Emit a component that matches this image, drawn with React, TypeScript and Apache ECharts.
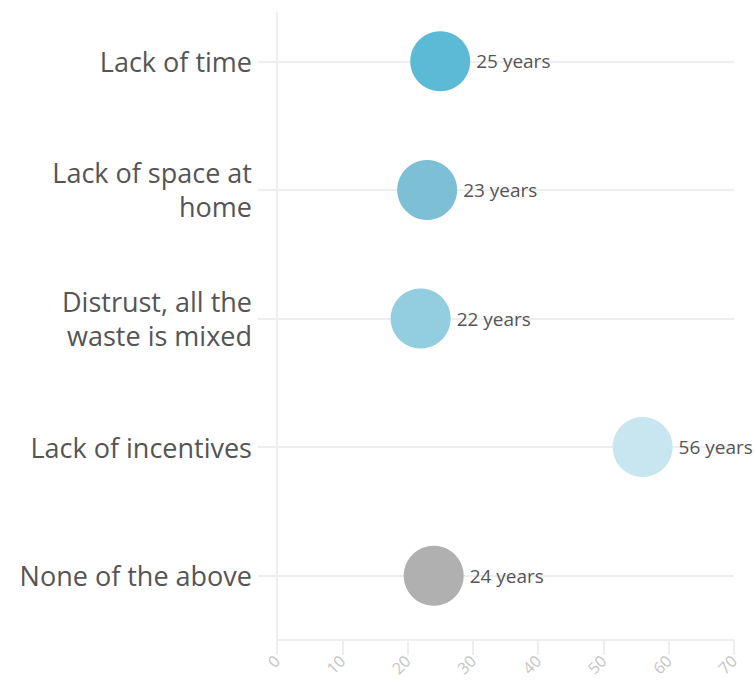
import React, { useEffect, useRef } from "react";
import * as echarts from "echarts";

const categories = [
  "Lack of time",
  "Lack of space at\nhome",
  "Distrust, all the\nwaste is mixed",
  "Lack of incentives",
  "None of the above",
];
const ages = [25, 23, 22, 56, 24];
const colors = ["#5bbad5", "#7dbfd5", "#93cde0", "#c7e6ef", "#b0b0b0"];
const xTicks = [0, 10, 20, 30, 40, 50, 60, 70];

const FONT = "Open Sans";

export default function App() {
  const ref = useRef<HTMLDivElement>(null);
  useEffect(() => {
    document.body.style.margin = "0";
    document.body.style.overflow = "hidden";
    const chart = echarts.init(ref.current!, null, { renderer: "svg" });
    chart.setOption({
      animation: false,
      textStyle: { fontFamily: FONT },
      grid: { left: 277, right: 21, top: 0, bottom: 50 },
      xAxis: {
        type: "value",
        min: xTicks[0],
        max: xTicks[xTicks.length - 1],
        interval: 10,
        axisLine: { show: true, lineStyle: { color: "#eeeeee", width: 2 } },
        axisTick: { show: true, length: 15, lineStyle: { color: "#eeeeee", width: 2 } },
        splitLine: { show: false },
        axisLabel: {
          rotate: 45,
          color: "#c4c4c4",
          fontSize: 16,
          margin: 18,
          fontFamily: FONT,
        },
      },
      yAxis: {
        type: "category",
        data: categories,
        inverse: true,
        axisLine: { show: false },
        axisTick: {
          show: true,
          alignWithLabel: true,
          length: 19,
          lineStyle: { color: "#eeeeee", width: 2 },
        },
        splitLine: { show: false },
        axisLabel: {
          color: "#555555",
          fontSize: 27,
          lineHeight: 34,
          margin: 25,
          align: "right",
          fontFamily: FONT,
        },
      },
      graphic: [
        {
          type: "line",
          shape: { x1: 277, y1: 15, x2: 277, y2: 644 },
          style: { stroke: "#eeeeee", lineWidth: 2 },
          z: 0,
        },
      ],
      series: [
        {
          type: "scatter",
          symbolSize: 60,
          data: ages.map((v, i) => ({
            value: [v, categories[i]],
            itemStyle: { color: colors[i], opacity: 1 },
          })),
          label: {
            show: true,
            position: "right",
            distance: 6,
            color: "#555555",
            fontSize: 19,
            fontFamily: FONT,
            formatter: (p: any) => `${p.value[0]} years`,
          },
          markLine: {
            silent: true,
            symbol: "none",
            label: { show: false },
            lineStyle: { color: "#eeeeee", type: "solid", width: 2 },
            data: categories.map((c) => ({ yAxis: c })),
            z: 1,
          },
          z: 3,
        },
      ],
    });
    return () => chart.dispose();
  }, []);
  return (
    <div
      ref={ref}
      style={{ width: 755, height: 693, marginTop: -3 }}
    />
  );
}
